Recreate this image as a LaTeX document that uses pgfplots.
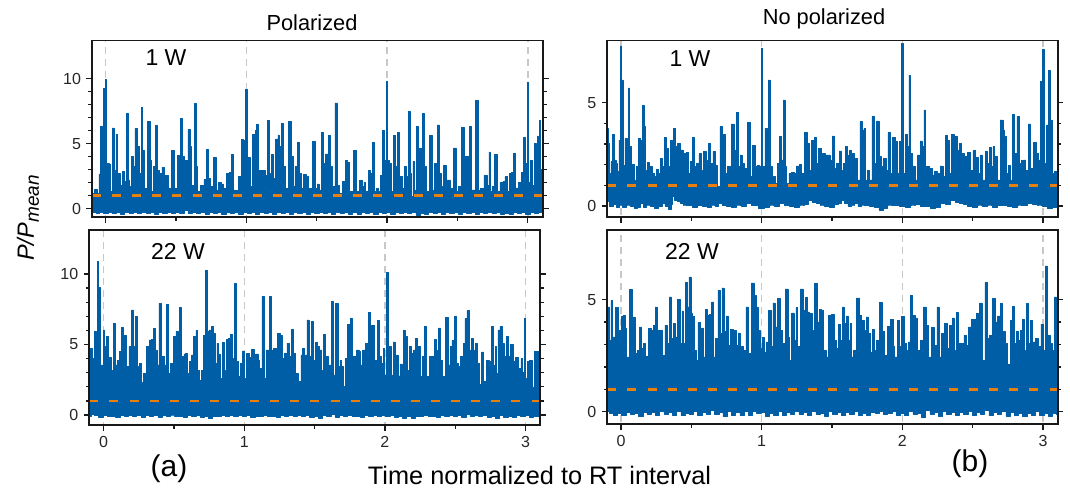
\documentclass[border=0pt]{standalone}
\usepackage{pgfplots}
\pgfplotsset{compat=1.18}
\usepackage{fontspec}
\setmainfont{Liberation Sans}
\definecolor{myblue}{RGB}{0,94,166}
\definecolor{myorange}{RGB}{232,128,16}
\definecolor{mygrey}{RGB}{200,200,200}
\definecolor{myaxis}{RGB}{25,25,25}
\pgfplotsset{
  panel/.style={
    scale only axis, anchor=south west, axis on top,
    axis line style={line width=1.8pt, color=myaxis},
    tick style={line width=1.3pt, color=myaxis},
    major tick length=5.5pt, minor tick length=3.5pt,
    tick align=outside,
    xtick pos=bottom, ytick pos=both, yticklabel pos=left,
    xtick={0,1,2,3}, minor x tick num=1,
    minor y tick num=4,
    /pgf/number format/assume math mode=true,
    tick label style={font=\fontsize{16}{18}\selectfont, color=black!85},
    xticklabel style={yshift=-2pt},
    yticklabel style={xshift=-2pt},
  },
  sig/.style={const plot mark mid, draw=myblue, fill=myblue, line width=0.5pt, line join=round},
  rt/.style={mygrey, line width=1.5pt, dash pattern=on 7pt off 5pt},
  mean/.style={myorange, line width=2.6pt, dash pattern=on 9pt off 11.1pt},
}
\begin{document}
\begin{tikzpicture}[x=1pt,y=1pt]
\useasboundingbox (0,0) rectangle (1070,488);

% ---------- top left: polarized, 1 W
\begin{axis}[panel, at={(92pt,271pt)}, width=451pt, height=176.5pt,
  xmin=-0.097, xmax=3.108, ymin=-0.64, ymax=12.94, ytick={0,5,10}, xticklabels={}]
\addplot[rt] coordinates {(0,-1)(0,13)};
\addplot[rt] coordinates {(1,-1)(1,13)};
\addplot[rt] coordinates {(2,-1)(2,13)};
\addplot[rt] coordinates {(3,-1)(3,13)};
\addplot[sig] coordinates {
(-0.10,1.95)(-0.09,1.18)(-0.069,1.49)(-0.052,1.18)(-0.043,2.67)(-0.031,6.38)(-0.019,2.72)(-0.009,9.26)(0,9.95)(0.009,1.44)
(0.019,3.51)(0.028,3.44)(0.038,1.31)(0.057,6.21)(0.066,2.97)(0.078,5.74)(0.088,2.72)(0.097,2.72)(0.109,1.82)(0.128,2.85)
(0.142,2.08)(0.154,7.33)(0.164,2.21)(0.176,1.69)(0.187,4.03)(0.199,3.23)(0.218,6.15)(0.228,3.74)(0.237,4.79)(0.247,2.72)
(0.259,7.79)(0.268,4.51)(0.280,1.56)(0.311,6.72)(0.318,3.74)(0.327,1.31)(0.346,3.23)(0.363,6.41)(0.372,2.97)(0.389,2.72)
(0.410,3.18)(0.422,2.59)(0.437,2.56)(0.451,1.56)(0.482,4.46)(0.493,1.56)(0.522,4.13)(0.541,6.92)(0.550,4.0)(0.560,3.74)
(0.577,3.74)(0.593,6.10)(0.603,4.77)(0.612,1.31)(0.624,1.82)(0.638,8.10)(0.648,3.23)(0.660,1.31)(0.688,1.82)(0.707,2.26)
(0.726,4.56)(0.738,2.33)(0.750,1.74)(0.778,3.92)(0.788,1.44)(0.814,2.05)(0.830,1.90)(0.845,1.56)(0.873,2.72)(0.887,2.77)
(0.904,4.18)(0.913,1.44)(0.932,1.38)(0.954,2.46)(0.973,5.36)(0.985,5.28)(1.0,9.18)(1.008,2.72)(1.020,3.95)(1.032,1.69)
(1.056,5.69)(1.068,6.05)(1.079,6.46)(1.091,2.97)(1.110,2.97)(1.129,2.97)(1.141,2.59)(1.155,6.79)(1.165,2.72)(1.172,1.31)
(1.186,4.18)(1.198,2.33)(1.217,5.38)(1.229,5.67)(1.241,4.77)(1.260,6.56)(1.269,3.23)(1.288,1.56)(1.314,6.72)(1.324,4.0)
(1.338,1.69)(1.352,3.23)(1.369,5.08)(1.381,2.72)(1.395,1.56)(1.414,2.64)(1.431,2.46)(1.454,1.56)(1.483,5.18)(1.495,1.56)
(1.509,1.90)(1.526,1.44)(1.540,5.85)(1.552,3.49)(1.575,4.21)(1.592,5.64)(1.604,3.23)(1.616,1.74)(1.642,8.15)(1.651,1.79)
(1.668,1.18)(1.699,2.08)(1.711,3.74)(1.727,3.59)(1.741,1.31)(1.779,4.51)(1.789,1.31)(1.817,2.15)(1.829,1.69)(1.841,2.05)
(1.855,1.31)(1.874,2.92)(1.891,2.72)(1.905,5.13)(1.917,1.31)(1.931,1.59)(1.945,1.31)(1.960,2.59)(1.976,6.0)(1.988,3.74)
(2.0,9.79)(2.009,3.74)(2.021,3.49)(2.036,1.31)(2.055,5.64)(2.066,3.23)(2.081,5.85)(2.090,2.21)(2.104,2.46)(2.114,1.56)
(2.128,3.23)(2.142,2.46)(2.157,7.46)(2.168,2.72)(2.178,0.92)(2.190,3.64)(2.202,1.44)(2.216,6.31)(2.228,4.64)(2.242,4.64)
(2.259,7.33)(2.268,3.23)(2.287,1.31)(2.313,5.64)(2.323,1.44)(2.346,3.49)(2.368,6.44)(2.377,2.72)(2.394,1.69)(2.410,3.36)
(2.429,2.21)(2.463,1.56)(2.482,4.67)(2.496,1.31)(2.515,1.69)(2.543,6.23)(2.555,4.05)(2.577,4.0)(2.595,6.36)(2.605,1.44)
(2.619,1.44)(2.641,8.36)(2.650,1.44)(2.676,1.56)(2.700,2.59)(2.719,1.82)(2.726,4.38)(2.738,1.31)(2.752,1.69)(2.778,4.18)
(2.788,1.31)(2.814,2.0)(2.830,2.08)(2.845,2.46)(2.859,1.31)(2.875,2.72)(2.89,2.8)(2.906,4.25)(2.918,1.6)(2.95,2.0)
(2.962,2.8)(2.975,5.5)(2.99,3.5)(3.0,9.75)(3.01,2.0)(3.02,3.7)(3.04,1.8)(3.052,5.0)(3.062,3.5)(3.07,5.6)
(3.078,3.0)(3.085,6.8)(3.095,3.0)(3.11,2.0)
(3.11,-0.2)(3.09,-0.28)(3.06,-0.36)(3.03,-0.3)(3.0,-0.42)(2.97,-0.3)(2.94,-0.38)(2.91,-0.26)(2.88,-0.46)(2.85,-0.33)
(2.82,-0.42)(2.79,-0.28)(2.76,-0.38)(2.73,-0.25)(2.70,-0.34)(2.67,-0.3)(2.64,-0.4)(2.61,-0.24)(2.58,-0.36)(2.55,-0.3)
(2.52,-0.4)(2.49,-0.28)(2.46,-0.37)(2.43,-0.3)(2.40,-0.44)(2.37,-0.3)(2.34,-0.38)(2.31,-0.26)(2.28,-0.42)(2.25,-0.33)
(2.22,-0.48)(2.19,-0.3)(2.16,-0.38)(2.13,-0.25)(2.10,-0.36)(2.07,-0.3)(2.04,-0.4)(2.01,-0.3)(1.98,-0.36)(1.95,-0.27)
(1.92,-0.42)(1.89,-0.28)(1.86,-0.33)(1.83,-0.26)(1.80,-0.4)(1.77,-0.3)(1.74,-0.44)(1.71,-0.3)(1.68,-0.36)(1.65,-0.26)
(1.62,-0.4)(1.59,-0.3)(1.56,-0.36)(1.53,-0.25)(1.50,-0.38)(1.47,-0.3)(1.44,-0.4)(1.41,-0.28)(1.38,-0.36)(1.35,-0.3)
(1.32,-0.42)(1.29,-0.26)(1.26,-0.38)(1.23,-0.3)(1.20,-0.44)(1.17,-0.28)(1.14,-0.36)(1.11,-0.25)(1.08,-0.4)(1.05,-0.3)
(1.02,-0.36)(0.99,-0.3)(0.96,-0.42)(0.93,-0.26)(0.90,-0.38)(0.87,-0.3)(0.84,-0.4)(0.81,-0.24)(0.78,-0.36)(0.75,-0.3)
(0.72,-0.46)(0.69,-0.3)(0.66,-0.38)(0.63,-0.25)(0.60,-0.36)(0.57,-0.12)(0.54,-0.34)(0.51,-0.28)(0.48,-0.38)(0.45,-0.26)
(0.42,-0.36)(0.39,-0.3)(0.36,-0.4)(0.33,-0.25)(0.30,-0.33)(0.27,-0.28)(0.24,-0.38)(0.21,-0.26)(0.18,-0.36)(0.15,-0.3)
(0.12,-0.42)(0.09,-0.26)(0.06,-0.38)(0.03,-0.3)(0.0,-0.36)(-0.03,-0.28)(-0.06,-0.36)(-0.08,-0.26)(-0.10,-0.3)
(-0.10,1.95)};
\addplot[mean] coordinates {(-0.097,1)(3.108,1)};
\end{axis}

% ---------- bottom left: polarized, 22 W
\begin{axis}[panel, at={(89.3pt,63pt)}, width=450.7pt, height=195pt,
  xmin=-0.102, xmax=3.103, ymin=-0.71, ymax=13.12, ytick={0,5,10}, xticklabels={0,1,2,3}]
\addplot[rt] coordinates {(0,-1)(0,14)};
\addplot[rt] coordinates {(1,-1)(1,14)};
\addplot[rt] coordinates {(2,-1)(2,14)};
\addplot[rt] coordinates {(3,-1)(3,14)};
\addplot[sig] coordinates {
(-0.102,3.66)(-0.088,4.73)(-0.078,4.02)(-0.059,5.91)(-0.050,4.61)(-0.040,10.87)(-0.031,9.05)(-0.021,3.55)(-0.007,3.55)(0.002,6.03)
(0.012,4.85)(0.024,5.56)(0.035,4.02)(0.047,4.09)(0.059,3.19)(0.081,6.50)(0.090,3.55)(0.107,3.90)(0.118,4.49)(0.133,6.22)
(0.142,2.84)(0.156,5.65)(0.168,3.43)(0.190,4.85)(0.206,7.45)(0.218,4.85)(0.230,7.02)(0.242,3.43)(0.263,3.66)(0.277,2.29)
(0.291,2.96)(0.315,4.85)(0.332,5.32)(0.348,5.37)(0.360,6.12)(0.372,4.61)(0.384,3.55)(0.403,7.92)(0.412,3.55)(0.427,4.14)
(0.438,3.55)(0.457,7.85)(0.467,2.96)(0.486,3.66)(0.505,5.60)(0.521,5.93)(0.533,4.85)(0.545,7.64)(0.555,3.66)(0.564,4.14)
(0.576,4.33)(0.588,4.37)(0.600,2.96)(0.616,3.78)(0.633,4.26)(0.647,5.56)(0.663,5.98)(0.675,3.19)(0.687,2.48)(0.699,3.19)
(0.716,5.67)(0.730,10.24)(0.739,5.91)(0.758,6.03)(0.775,6.26)(0.787,5.79)(0.799,3.66)(0.810,5.08)(0.822,4.33)(0.834,2.60)
(0.851,5.13)(0.863,3.19)(0.879,5.37)(0.889,5.44)(0.910,5.74)(0.924,4.02)(0.936,9.34)(0.945,3.78)(0.964,2.72)(0.979,3.66)
(0.993,4.54)(1.007,2.60)(1.026,4.37)(1.043,4.09)(1.062,4.66)(1.073,4.02)(1.090,4.33)(1.102,3.90)(1.118,3.31)(1.133,8.39)
(1.145,2.60)(1.161,4.61)(1.173,4.61)(1.185,8.39)(1.197,4.61)(1.216,4.7)(1.232,4.73)(1.244,5.79)(1.263,5.67)(1.277,4.02)
(1.296,4.37)(1.310,5.08)(1.327,4.14)(1.339,6.08)(1.355,4.37)(1.372,2.96)(1.396,2.36)(1.408,4.26)(1.422,4.73)(1.436,4.26)
(1.453,6.74)(1.465,4.14)(1.486,6.62)(1.498,3.90)(1.514,5.15)(1.528,4.85)(1.545,4.61)(1.555,3.19)(1.571,5.72)(1.583,4.14)
(1.609,3.55)(1.626,8.04)(1.635,2.84)(1.661,7.92)(1.671,3.43)(1.687,3.90)(1.697,3.43)(1.711,2.01)(1.723,4.02)(1.746,6.45)
(1.765,6.83)(1.777,4.14)(1.791,4.14)(1.808,4.61)(1.822,4.49)(1.834,3.55)(1.851,4.61)(1.872,5.08)(1.893,7.26)(1.905,6.38)
(1.919,6.38)(1.934,3.90)(1.955,6.69)(1.964,4.14)(1.981,3.66)(1.993,4.73)(2.002,2.84)(2.017,10.09)(2.026,3.43)(2.038,4.89)
(2.052,2.84)(2.066,5.18)(2.078,2.77)(2.088,4.26)(2.100,2.77)(2.114,3.62)(2.126,3.07)(2.137,5.98)(2.152,5.56)(2.166,3.19)
(2.180,4.89)(2.194,4.37)(2.209,4.61)(2.225,5.44)(2.242,4.85)(2.256,2.72)(2.273,4.14)(2.292,6.31)(2.303,2.72)(2.325,4.14)
(2.344,4.14)(2.358,5.37)(2.372,4.61)(2.391,6.17)(2.403,3.90)(2.419,2.72)(2.443,6.93)(2.455,3.55)(2.469,4.85)(2.483,5.27)
(2.500,7.02)(2.512,3.66)(2.528,3.43)(2.550,4.14)(2.562,5.08)(2.576,6.83)(2.590,7.40)(2.604,4.61)(2.621,5.44)(2.635,4.61)
(2.652,5.08)(2.666,3.66)(2.680,2.17)(2.694,4.47)(2.711,2.36)(2.735,3.90)(2.749,3.78)(2.765,6.31)(2.777,3.55)(2.789,4.85)
(2.798,2.96)(2.810,6.03)(2.827,6.26)(2.839,5.08)(2.853,4.14)(2.87,5.6)(2.885,4.2)(2.9,5.0)(2.92,3.8)(2.94,4.1)
(2.96,3.3)(2.975,4.0)(2.985,3.0)(2.995,6.85)(3.005,2.6)(3.02,3.8)(3.04,3.85)(3.055,2.0)(3.075,4.5)(3.105,3.5)
(3.105,-0.1)(3.07,-0.08)(3.04,-0.16)(3.01,-0.05)(2.98,-0.12)(2.95,-0.05)(2.92,-0.18)(2.89,-0.08)(2.86,-0.14)(2.83,-0.04)
(2.80,-0.25)(2.77,-0.08)(2.74,-0.14)(2.71,-0.05)(2.68,-0.12)(2.65,-0.02)(2.62,-0.1)(2.59,0.02)(2.56,-0.14)(2.53,-0.05)
(2.50,-0.12)(2.47,-0.02)(2.44,-0.1)(2.41,-0.04)(2.38,-0.16)(2.35,-0.06)(2.32,-0.1)(2.29,-0.03)(2.26,-0.1)(2.23,-0.08)
(2.20,-0.2)(2.17,-0.1)(2.14,-0.22)(2.11,-0.06)(2.08,-0.14)(2.05,-0.04)(2.02,-0.12)(1.99,-0.05)(1.96,-0.12)(1.93,-0.02)
(1.90,-0.1)(1.87,-0.04)(1.84,-0.16)(1.81,-0.08)(1.78,-0.12)(1.75,-0.03)(1.72,-0.1)(1.69,-0.05)(1.66,-0.14)(1.63,0.02)
(1.60,-0.1)(1.57,-0.04)(1.54,-0.2)(1.51,-0.06)(1.48,-0.14)(1.45,-0.04)(1.42,-0.12)(1.39,-0.02)(1.36,-0.1)(1.33,-0.05)
(1.30,-0.12)(1.27,-0.04)(1.24,-0.16)(1.21,-0.06)(1.18,-0.12)(1.15,-0.02)(1.12,-0.1)(1.09,-0.06)(1.06,-0.18)(1.03,-0.05)
(1.00,-0.12)(0.97,-0.04)(0.94,-0.1)(0.91,-0.03)(0.88,-0.12)(0.85,-0.05)(0.82,-0.12)(0.79,-0.06)(0.76,-0.25)(0.73,-0.1)
(0.70,-0.14)(0.67,-0.04)(0.64,-0.1)(0.61,-0.05)(0.58,-0.18)(0.55,-0.06)(0.52,-0.12)(0.49,0.0)(0.46,-0.1)(0.43,-0.04)
(0.40,-0.14)(0.37,-0.03)(0.34,-0.1)(0.31,-0.05)(0.28,-0.16)(0.25,-0.03)(0.22,-0.12)(0.19,-0.04)(0.16,-0.1)(0.13,-0.02)
(0.10,-0.16)(0.07,-0.06)(0.04,-0.12)(0.01,-0.05)(-0.02,-0.16)(-0.05,-0.02)(-0.08,0.02)(-0.102,-0.08)
(-0.102,3.66)};
\addplot[mean] coordinates {(-0.102,1)(3.103,1)};
\end{axis}

% ---------- top right: no polarized, 1 W
\begin{axis}[panel, at={(607.3pt,271pt)}, width=450.4pt, height=176.5pt,
  xmin=-0.097, xmax=3.104, ymin=-0.53, ymax=8.0, ytick={0,5}, xticklabels={}]
\addplot[rt] coordinates {(0,-1)(0,9)};
\addplot[rt] coordinates {(1,-1)(1,9)};
\addplot[rt] coordinates {(2,-1)(2,9)};
\addplot[rt] coordinates {(3,-1)(3,9)};
\addplot[sig] coordinates {
(-0.097,3.76)(-0.085,3.03)(-0.076,1.58)(-0.066,2.15)(-0.052,3.48)(-0.043,2.23)(-0.031,2.06)(-0.019,1.66)(-0.009,3.19)(0,7.74)
(0.009,6.10)(0.019,1.98)(0.036,3.27)(0.047,2.87)(0.057,5.71)(0.066,2.87)(0.076,1.58)(0.088,2.02)(0.102,1.26)(0.116,1.90)
(0.133,3.27)(0.147,3.19)(0.159,4.85)(0.168,3.84)(0.180,1.74)(0.194,2.10)(0.204,1.42)(0.216,1.90)(0.230,1.58)(0.244,1.42)
(0.261,1.77)(0.275,1.58)(0.284,2.31)(0.299,1.90)(0.318,3.31)(0.329,2.79)(0.341,1.90)(0.360,3.19)(0.382,3.76)(0.393,2.87)
(0.408,3.03)(0.431,2.71)(0.455,2.55)(0.474,2.60)(0.486,1.58)(0.498,2.15)(0.517,3.31)(0.528,1.90)(0.545,2.06)(0.564,2.55)
(0.578,1.74)(0.597,2.63)(0.611,2.19)(0.630,3.03)(0.645,2.06)(0.661,2.63)(0.673,1.98)(0.692,0.94)(0.713,3.84)(0.725,2.71)
(0.735,3.48)(0.746,1.58)(0.770,1.90)(0.799,3.97)(0.810,2.71)(0.832,4.53)(0.841,1.90)(0.853,2.47)(0.865,2.06)(0.886,1.82)
(0.910,4.03)(0.922,1.42)(0.948,2.94)(0.957,1.90)(0.976,1.98)(0.991,1.94)(1.0,7.63)(1.012,1.90)(1.033,3.76)(1.043,1.74)
(1.052,6.10)(1.064,1.90)(1.083,1.42)(1.104,1.10)(1.118,2.06)(1.135,3.35)(1.147,2.23)(1.159,5.13)(1.171,1.90)(1.185,1.10)
(1.201,1.58)(1.220,1.63)(1.237,1.58)(1.256,1.94)(1.275,2.03)(1.289,1.58)(1.315,3.56)(1.329,3.03)(1.344,1.74)(1.367,3.19)
(1.384,3.31)(1.396,2.06)(1.415,2.79)(1.438,2.55)(1.462,2.47)(1.479,2.47)(1.495,2.2)(1.512,3.39)(1.521,1.82)(1.540,2.06)
(1.562,2.66)(1.573,1.74)(1.588,2.06)(1.604,2.87)(1.616,2.47)(1.626,2.68)(1.649,2.55)(1.673,2.31)(1.687,1.26)(1.709,4.08)
(1.720,3.68)(1.732,3.76)(1.744,1.26)(1.761,1.74)(1.773,1.26)(1.794,4.32)(1.806,2.06)(1.827,4.11)(1.839,2.39)(1.858,1.90)
(1.877,2.31)(1.889,1.74)(1.905,3.55)(1.917,1.58)(1.945,3.31)(1.957,3.11)(1.969,1.58)(1.988,3.11)(2.0,7.87)(2.012,1.58)
(2.028,3.47)(2.040,2.87)(2.052,6.31)(2.064,2.55)(2.081,1.94)(2.095,1.26)(2.118,2.47)(2.133,3.15)(2.147,2.87)(2.159,4.65)
(2.171,1.90)(2.187,1.90)(2.201,1.82)(2.218,1.50)(2.237,1.66)(2.254,1.58)(2.282,1.94)(2.294,1.42)(2.313,3.40)(2.325,3.19)
(2.336,1.58)(2.363,3.47)(2.372,3.19)(2.384,3.39)(2.396,2.71)(2.410,3.03)(2.427,2.55)(2.446,2.39)(2.474,2.60)(2.491,1.74)
(2.512,2.68)(2.528,2.36)(2.545,1.58)(2.564,2.47)(2.578,1.26)(2.599,2.63)(2.611,2.06)(2.626,2.84)(2.637,1.90)(2.649,2.87)
(2.664,2.39)(2.680,1.26)(2.709,4.16)(2.720,3.68)(2.732,3.35)(2.747,1.58)(2.763,1.98)(2.775,1.26)(2.791,4.44)(2.803,2.55)
(2.825,4.32)(2.836,2.06)(2.855,2.19)(2.869,2.23)(2.884,1.74)(2.905,3.97)(2.917,1.82)(2.941,3.06)(2.957,2.55)(2.972,2.23)
(2.988,6.02)(3.0,7.58)(3.012,2.06)(3.031,3.92)(3.047,6.55)(3.059,4.16)(3.071,1.58)(3.088,1.66)(3.104,1.66)
(3.104,-0.03)(3.08,-0.06)(3.047,-0.11)(3.01,0.0)(2.976,0.05)(2.94,0.1)(2.905,0.13)(2.87,0.02)(2.834,0.05)(2.80,-0.08)
(2.763,-0.03)(2.73,0.06)(2.692,0.02)(2.66,-0.07)(2.621,0.05)(2.585,-0.02)(2.55,0.05)(2.515,-0.08)(2.479,-0.03)(2.45,0.08)
(2.419,0.13)(2.39,0.2)(2.360,0.29)(2.325,0.1)(2.289,0.13)(2.25,-0.05)(2.218,-0.11)(2.18,0.0)(2.147,-0.03)(2.11,0.08)
(2.076,0.05)(2.04,-0.06)(2.0,0.0)(1.95,0.02)(1.91,0.05)(1.88,-0.1)(1.851,-0.19)(1.815,-0.06)(1.78,-0.03)(1.75,0.06)
(1.72,0.05)(1.695,-0.03)(1.673,0.13)(1.65,0.05)(1.626,0.0)(1.60,0.12)(1.578,0.29)(1.555,0.14)(1.531,0.10)(1.50,-0.04)
(1.462,0.0)(1.43,0.05)(1.403,0.13)(1.37,0.16)(1.344,0.29)(1.315,0.1)(1.284,0.05)(1.25,-0.08)(1.213,-0.03)(1.18,0.06)
(1.142,0.13)(1.105,-0.02)(1.071,0.05)(1.035,-0.07)(1.0,-0.11)(0.95,0.02)(0.905,0.13)(0.87,0.0)(0.834,0.05)(0.80,-0.06)
(0.763,0.0)(0.73,0.06)(0.704,0.13)(0.68,0.0)(0.656,0.05)(0.625,-0.08)(0.597,-0.03)(0.56,0.03)(0.526,-0.06)(0.49,0.06)
(0.455,0.05)(0.43,0.15)(0.408,0.21)(0.39,0.3)(0.372,0.45)(0.36,0.1)(0.348,-0.16)(0.325,0.0)(0.301,0.13)(0.28,-0.02)
(0.254,-0.11)(0.225,0.0)(0.194,0.05)(0.17,-0.04)(0.147,0.13)(0.125,-0.04)(0.104,-0.11)(0.08,0.0)(0.052,0.05)(0.025,-0.05)
(0,0.05)(-0.02,-0.05)(-0.043,0.10)(-0.07,0.0)(-0.097,0.21)
(-0.097,3.76)};
\addplot[mean] coordinates {(-0.097,1)(3.104,1)};
\end{axis}

% ---------- bottom right: no polarized, 22 W
\begin{axis}[panel, at={(607.3pt,64pt)}, width=450.4pt, height=194pt,
  xmin=-0.097, xmax=3.104, ymin=-0.55, ymax=8.11, ytick={0,5}, xticklabels={0,1,2,3}]
\addplot[rt] coordinates {(0,-1)(0,9)};
\addplot[rt] coordinates {(1,-1)(1,9)};
\addplot[rt] coordinates {(2,-1)(2,9)};
\addplot[rt] coordinates {(3,-1)(3,9)};
\addplot[sig] coordinates {
(-0.097,4.68)(-0.085,4.68)(-0.076,3.19)(-0.066,4.98)(-0.057,3.34)(-0.047,3.34)(-0.028,4.65)(-0.014,3.64)(-0.002,2.75)(0.009,4.28)
(0.021,4.31)(0.033,3.71)(0.047,2.45)(0.071,5.45)(0.083,2.60)(0.095,4.23)(0.107,2.60)(0.123,2.75)(0.137,3.79)(0.152,2.82)
(0.164,3.05)(0.182,2.48)(0.206,3.71)(0.223,3.64)(0.237,3.86)(0.249,4.68)(0.261,3.64)(0.277,3.64)(0.306,2.53)(0.320,3.86)
(0.332,3.05)(0.353,5.13)(0.365,3.27)(0.379,3.94)(0.391,3.34)(0.412,5.02)(0.427,3.05)(0.438,4.50)(0.450,3.05)(0.464,5.77)
(0.476,4.68)(0.491,6.02)(0.502,4.38)(0.517,4.26)(0.531,2.75)(0.540,2.30)(0.554,3.97)(0.566,2.45)(0.581,3.74)(0.592,2.45)
(0.609,4.56)(0.623,4.31)(0.637,4.35)(0.652,4.90)(0.664,2.45)(0.680,3.27)(0.697,5.42)(0.708,3.49)(0.727,5.53)(0.739,3.57)
(0.756,4.28)(0.768,2.97)(0.787,3.68)(0.810,3.64)(0.827,2.97)(0.841,3.52)(0.858,2.90)(0.877,2.75)(0.900,4.68)(0.912,2.60)
(0.941,5.75)(0.953,5.20)(0.967,4.68)(0.981,3.64)(0.995,2.82)(1.009,3.31)(1.026,2.67)(1.040,3.12)(1.059,4.53)(1.071,2.90)
(1.090,4.86)(1.102,3.79)(1.126,5.05)(1.137,3.64)(1.152,3.05)(1.180,5.48)(1.192,3.34)(1.201,2.30)(1.225,4.41)(1.237,3.19)
(1.249,4.65)(1.261,2.90)(1.289,5.48)(1.301,4.53)(1.320,5.10)(1.332,4.46)(1.351,4.38)(1.363,3.64)(1.386,5.72)(1.398,4.01)
(1.417,4.56)(1.431,4.53)(1.450,2.75)(1.462,2.45)(1.481,4.31)(1.507,4.34)(1.519,3.19)(1.536,2.82)(1.555,3.91)(1.566,3.19)
(1.581,4.68)(1.592,3.94)(1.609,4.28)(1.621,3.19)(1.633,3.94)(1.645,2.45)(1.661,2.75)(1.690,5.08)(1.702,4.31)(1.720,4.09)
(1.732,3.64)(1.751,4.23)(1.768,3.49)(1.780,2.67)(1.791,3.67)(1.806,2.75)(1.822,3.19)(1.848,4.87)(1.863,3.57)(1.886,2.53)
(1.905,3.82)(1.927,4.13)(1.938,2.90)(1.953,2.45)(1.972,4.09)(1.986,2.90)(2.005,4.26)(2.021,3.05)(2.038,2.75)(2.047,3.12)
(2.066,5.20)(2.078,4.31)(2.100,4.19)(2.118,2.75)(2.135,3.19)(2.161,4.68)(2.178,3.86)(2.194,2.45)(2.223,3.76)(2.237,2.97)
(2.254,4.68)(2.270,2.45)(2.289,3.49)(2.313,3.94)(2.325,2.82)(2.344,3.86)(2.363,4.19)(2.377,2.75)(2.386,4.43)(2.408,3.05)
(2.427,3.05)(2.446,3.42)(2.460,2.97)(2.483,3.79)(2.502,4.13)(2.519,4.12)(2.538,4.38)(2.555,4.86)(2.574,2.30)(2.597,5.77)
(2.611,3.27)(2.630,3.42)(2.652,5.05)(2.668,4.01)(2.685,4.28)(2.704,4.83)(2.720,3.57)(2.739,3.05)(2.756,2.12)(2.775,4.09)
(2.789,4.71)(2.806,3.05)(2.818,3.57)(2.834,3.19)(2.846,3.64)(2.860,4.12)(2.874,2.75)(2.889,4.83)(2.903,3.05)(2.917,4.06)
(2.934,3.12)(2.957,3.27)(2.976,2.90)(2.991,3.91)(3.005,2.75)(3.028,6.51)(3.038,3.42)(3.059,3.05)(3.071,2.75)(3.085,5.13)
(3.104,2.75)
(3.104,-0.12)(3.08,-0.05)(3.05,-0.2)(3.02,-0.08)(2.99,-0.16)(2.96,0.0)(2.93,-0.14)(2.90,-0.05)(2.87,-0.22)(2.84,-0.06)
(2.81,-0.18)(2.78,-0.04)(2.75,-0.2)(2.72,0.02)(2.69,-0.12)(2.66,-0.02)(2.63,-0.18)(2.60,0.05)(2.57,-0.1)(2.54,-0.04)
(2.51,-0.18)(2.48,0.02)(2.45,-0.12)(2.42,-0.02)(2.39,-0.16)(2.36,-0.04)(2.33,-0.1)(2.30,0.03)(2.27,-0.2)(2.24,-0.02)
(2.21,-0.1)(2.18,0.05)(2.15,-0.26)(2.12,-0.05)(2.09,-0.12)(2.06,0.0)(2.03,-0.18)(2.0,-0.08)(1.97,-0.14)(1.94,0.03)
(1.91,-0.06)(1.88,-0.12)(1.85,0.04)(1.82,-0.08)(1.79,-0.02)(1.76,-0.14)(1.73,-0.05)(1.70,-0.16)(1.67,0.03)(1.64,-0.12)
(1.61,-0.03)(1.58,-0.18)(1.55,-0.04)(1.52,-0.1)(1.49,0.02)(1.46,-0.2)(1.43,-0.05)(1.40,-0.12)(1.37,0.03)(1.34,-0.16)
(1.31,-0.02)(1.28,-0.12)(1.25,0.04)(1.22,-0.1)(1.19,-0.04)(1.16,-0.18)(1.13,0.0)(1.10,-0.14)(1.07,-0.05)(1.04,-0.2)
(1.01,-0.03)(0.98,-0.08)(0.95,0.02)(0.92,-0.14)(0.89,0.03)(0.86,-0.18)(0.83,-0.03)(0.80,-0.14)(0.77,0.0)(0.74,-0.22)
(0.71,-0.02)(0.68,-0.1)(0.65,0.05)(0.62,-0.12)(0.59,-0.04)(0.56,-0.16)(0.53,0.0)(0.50,-0.12)(0.47,-0.05)(0.44,-0.18)
(0.41,0.02)(0.38,-0.14)(0.35,-0.04)(0.32,-0.1)(0.29,0.02)(0.26,-0.16)(0.23,-0.03)(0.20,-0.12)(0.17,-0.02)(0.14,-0.2)
(0.11,-0.05)(0.08,-0.12)(0.05,-0.02)(0.02,-0.16)(-0.01,-0.05)(-0.04,-0.18)(-0.07,-0.06)(-0.097,0.03)
(-0.097,4.68)};
\addplot[mean] coordinates {(-0.097,1)(3.104,1)};
\end{axis}

% ---------- titles and labels
\node[font=\fontsize{21.8}{24}\selectfont] at (312,465) {Polarized};
\node[font=\fontsize{21.8}{24}\selectfont] at (824,469) {No polarized};
\node[font=\fontsize{23}{26}\selectfont] at (166,430) {1 W};
\node[font=\fontsize{23}{26}\selectfont] at (178,237) {22 W};
\node[font=\fontsize{23}{26}\selectfont] at (690,429) {1 W};
\node[font=\fontsize{23}{26}\selectfont] at (692,237) {22 W};
\node[font=\fontsize{25.3}{28}\selectfont] at (539.5,13) {Time normalized to RT interval};
\node[font=\fontsize{30}{32}\selectfont] at (169,19) {(a)};
\node[font=\fontsize{30}{32}\selectfont] at (970,24) {(b)};
\node[rotate=90, font=\fontsize{23.5}{28}\selectfont] at (28,270)
  {\textit{P/P}\raisebox{-5pt}{\fontsize{19}{24}\selectfont\textit{mean}}};
\end{tikzpicture}
\end{document}
